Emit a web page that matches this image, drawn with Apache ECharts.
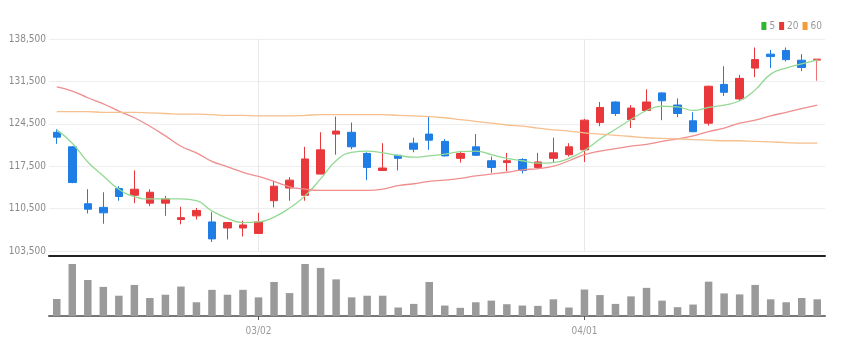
<!DOCTYPE html>
<html>
<head>
<meta charset="utf-8">
<script src="https://cdn.jsdelivr.net/npm/echarts@6/dist/echarts.min.js"></script>
<style>
html,body{margin:0;padding:0;background:#fff;}
#chart{width:844px;height:355px;}
</style>
</head>
<body>
<div id="chart"></div>
<script>
const dates = ['02/10','02/11','02/14','02/15','02/16','02/17','02/18','02/21','02/22','02/23','02/24','02/25','02/28',
  '03/02','03/03','03/04','03/07','03/08','03/10','03/11','03/14','03/15','03/16','03/17','03/18','03/21','03/22','03/23','03/24','03/25','03/28','03/29','03/30','03/31',
  '04/01','04/04','04/05','04/06','04/07','04/08','04/11','04/12','04/13','04/14','04/15','04/18','04/19','04/20','04/21','04/22'];
const tickLabels = ['03/02','04/01'];
const openP  = [123100,120700,111300,110700,113800,112700,111400,111400,108700,109300,108300,107300,107300,106400,111800,113900,112700,116200,122800,123100,119600,116800,119300,121300,122800,121600,118800,120700,118400,118100,118600,117300,118800,119400,120200,124700,128100,125200,126700,129600,127600,125000,124600,131000,128600,133700,136000,136600,135000,135000];
const closeP = [122300,114800,110400,109800,112500,113700,113200,112100,109000,110200,105500,108200,107800,108300,114200,115200,118700,120200,123300,120700,117300,117200,118800,120300,121800,119200,119600,119300,117300,118400,116800,118200,119700,120700,125100,127200,126200,127100,128100,128300,126200,123200,130700,129700,132000,135100,135600,135100,133800,135200];
const lowP   = [121200,114700,109700,108000,111800,111400,110900,109300,107900,108700,105000,105400,105900,106300,110700,111800,111800,116200,119400,120300,115200,116700,116800,119800,120200,119100,118100,119200,116400,116700,116300,117000,118100,119100,118200,124100,125800,123800,126700,125100,125600,123100,124200,129100,128300,132200,133700,134800,133200,131600];
const highP  = [123600,120800,113700,113200,114200,116800,113700,112600,110800,110600,109900,108300,108500,109800,115100,115700,120700,123100,125700,124700,119800,121300,119400,122200,125700,122000,120000,122800,119100,119700,118800,119700,122200,121300,125300,128100,128200,127600,130200,129700,128700,126400,130800,134000,132600,137100,136700,137100,136000,135200];
const ma5  = [123500,121300,118200,115900,113700,112500,112100,112100,112100,111800,110100,108900,108200,108300,109100,110600,112600,115400,118400,119800,120000,119700,119300,119000,119200,119500,119900,120000,119400,118800,118400,118000,118100,118800,120100,122000,123600,125200,126700,127400,127300,126700,127200,127600,128300,130100,132700,133700,134400,135000];
const ma20 = [130600,129900,128800,127800,126600,125500,124100,122500,120800,119700,118300,117400,116500,115800,115000,114100,113700,113500,113500,113500,113500,113700,114300,114600,115000,115200,115500,115900,116200,116500,116900,117100,117500,118400,119400,120000,120400,120800,121100,121600,122000,122500,123200,123800,124600,125100,125800,126400,127000,127600];
const ma60 = [126500,126500,126500,126400,126400,126400,126300,126200,126100,126100,126000,125900,125900,125800,125800,125800,125900,126000,126000,126000,126000,126000,125900,125800,125700,125500,125200,124900,124600,124300,124100,123800,123500,123300,123000,122800,122600,122400,122200,122100,122000,121900,121800,121700,121700,121600,121500,121400,121300,121300];
const volume = [520000,1590000,1100000,890000,620000,950000,550000,650000,900000,420000,800000,650000,800000,570000,1040000,700000,1590000,1470000,1120000,570000,620000,620000,260000,370000,1040000,320000,250000,420000,470000,360000,320000,310000,510000,260000,810000,640000,370000,600000,860000,470000,270000,350000,1050000,690000,660000,950000,510000,420000,550000,510000];
const maNames = ['5','20','60'];

const FONT = "'Liberation Sans Narrow', 'DejaVu Sans Condensed', 'Liberation Sans', Arial, sans-serif";
const UP = '#e8383b', DOWN = '#1f7de6';
const showTick = (i, v) => tickLabels.indexOf(v) >= 0;

const chart = echarts.init(document.getElementById('chart'), null, {renderer: 'canvas'});
const ohlc = openP.map((o, i) => {
  const v = [o, closeP[i], lowP[i], highP[i]];
  return i === openP.length - 1 ? {value: v, itemStyle: {opacity: 0.7}} : v;
});

function maSeries(name, data, lineColor, iconColor) {
  return {
    name: name, type: 'line', data: data, xAxisIndex: 0, yAxisIndex: 0,
    smooth: true, showSymbol: false, symbol: 'none', silent: true,
    itemStyle: {color: iconColor},
    lineStyle: {color: lineColor, width: 1.3},
    z: 3
  };
}

chart.setOption({
  animation: false,
  textStyle: {fontFamily: FONT},
  legend: {
    data: maNames, right: 17, top: 16, icon: 'rect', itemWidth: 5, itemHeight: 8, itemGap: 4,
    selectedMode: false,
    textStyle: {color: '#999', fontSize: 10, fontFamily: FONT, padding: [0,0,0,-2]}
  },
  grid: [
    {left: 49, right: 19, top: 39, height: 212},
    {left: 49, right: 19, top: 263, height: 53}
  ],
  xAxis: [
    {type: 'category', gridIndex: 0, data: dates, boundaryGap: true, offset: 5,
     axisLine: {show: true, lineStyle: {color: '#222', width: 2}},
     axisTick: {show: false}, axisLabel: {show: false},
     splitLine: {show: true, interval: showTick, alignWithLabel: true, lineStyle: {color: '#e8e8e8', width: 1}}},
    {type: 'category', gridIndex: 1, data: dates, boundaryGap: true,
     axisLine: {show: true, lineStyle: {color: '#777', width: 2}},
     axisTick: {show: true, interval: showTick, alignWithLabel: true, length: 4, lineStyle: {color: '#555'}},
     axisLabel: {show: true, interval: showTick, color: '#999', fontSize: 10, margin: 10, fontFamily: FONT},
     splitLine: {show: false}}
  ],
  yAxis: [
    {type: 'value', gridIndex: 0, min: 103500, max: 138500, interval: 7000, position: 'left',
     axisLine: {show: false}, axisTick: {show: false},
     axisLabel: {color: '#8a8a8a', fontSize: 10, margin: 3, fontFamily: FONT, padding: [0,0,3,0],
       formatter: v => v.toLocaleString('en-US')},
     splitLine: {show: true, lineStyle: {color: '#eeeeee', width: 1}}},
    {type: 'value', gridIndex: 1, min: 0, max: 1620000, show: false, splitLine: {show: false}}
  ],
  series: [
    {name: 'price', type: 'candlestick', data: ohlc, xAxisIndex: 0, yAxisIndex: 0, barWidth: 8,
     itemStyle: {color: UP, color0: DOWN, borderColor: UP, borderColor0: DOWN, borderWidth: 1},
     z: 2},
    maSeries('5', ma5, '#93d993', '#2fb52f'),
    maSeries('20', ma20, '#f08e8e', '#ee3535'),
    maSeries('60', ma60, '#f6bf8e', '#f39a3a'),
    {name: 'volume', type: 'bar', data: volume, xAxisIndex: 1, yAxisIndex: 1, barWidth: 7.5,
     itemStyle: {color: '#9a9a9a'}, silent: true}
  ]
});
</script>
</body>
</html>
